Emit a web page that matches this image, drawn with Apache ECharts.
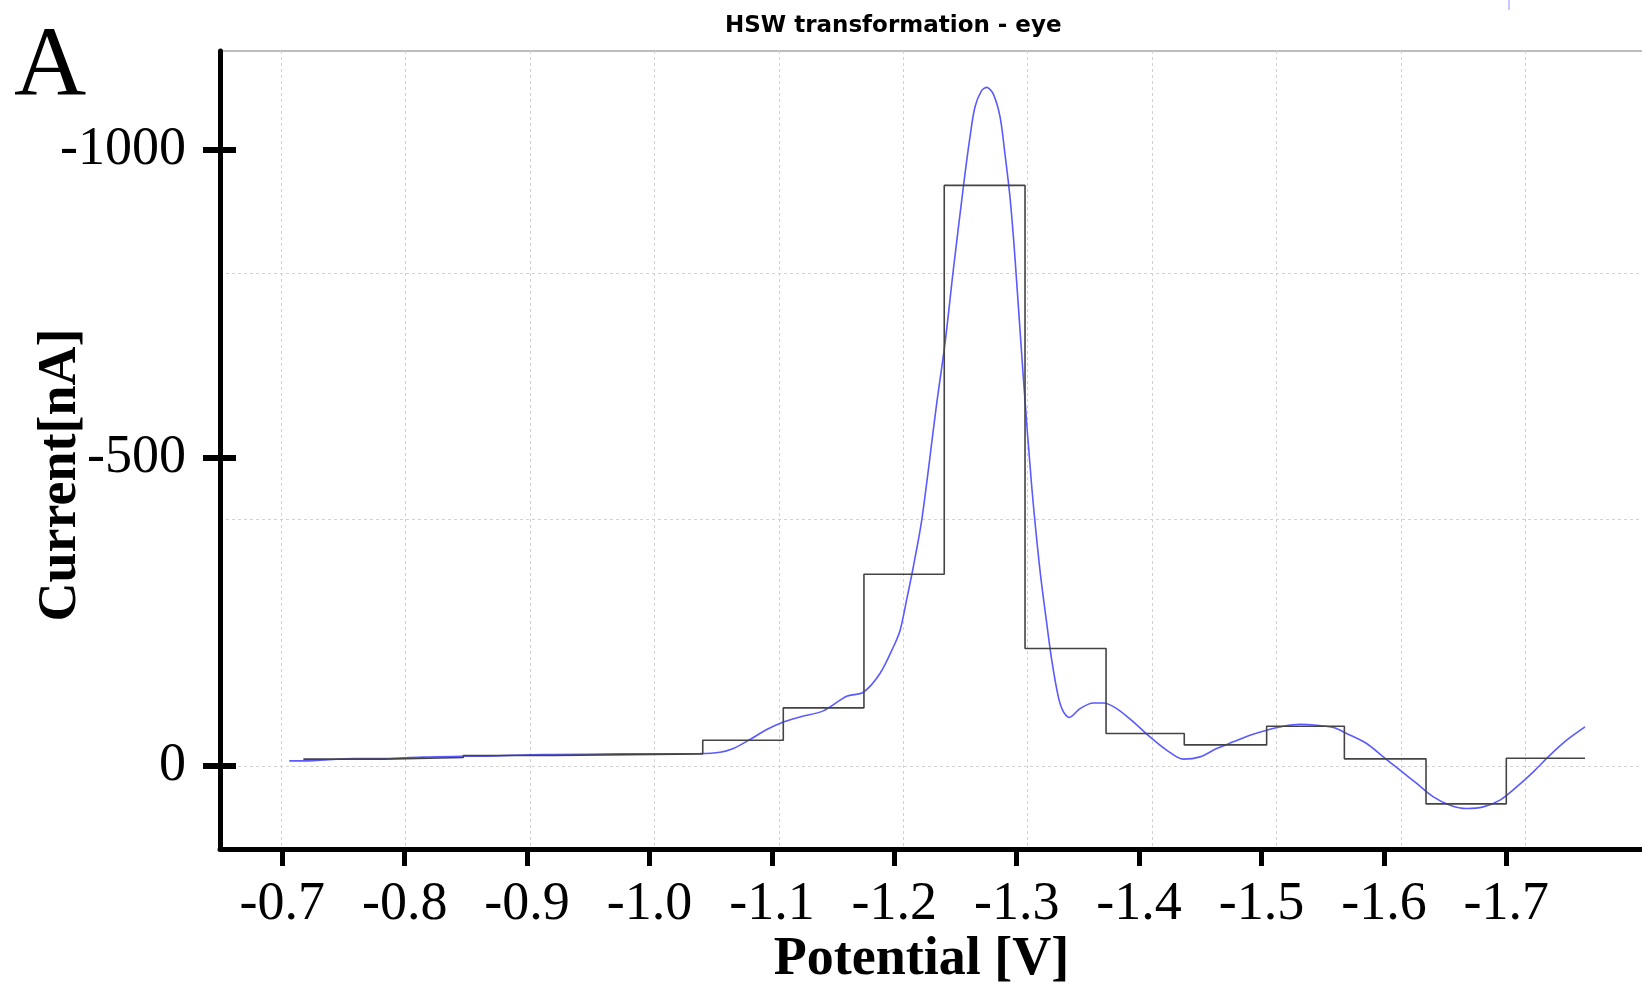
<!DOCTYPE html>
<html><head><meta charset="utf-8">
<script src="https://cdn.jsdelivr.net/npm/echarts@6/dist/echarts.min.js"></script>
<style>html,body{margin:0;padding:0;background:#fff}#c{width:1642px;height:989px}</style>
</head><body><div id="c"></div>
<script>
// Tick labels
const xTickValues = [-0.7, -0.8, -0.9, -1.0, -1.1, -1.2, -1.3, -1.4, -1.5, -1.6, -1.7];
const yTickValues = [-1000, -500, 0];
const yGridValues = [-800, -400, 0];
const xGridValues = [-0.7, -0.8, -0.9, -1.0, -1.1, -1.2, -1.3, -1.4, -1.5, -1.6, -1.7];

// Step (histogram) series: potential where each level starts, current of that level
const stepPotential = [-0.7172, -0.7825, -0.8479, -0.9214, -1.0435, -1.1093, -1.1752, -1.2408, -1.3068, -1.3730, -1.4369, -1.5042, -1.5677, -1.6344, -1.7000, -1.7643];
const stepCurrent   = [-10.9, -13.6, -16.9, -19.5, -41.6, -94.2, -311.2, -942.7, -190.6, -52.6, -34.1, -64.4, -11.4, 61.7, -12.5, -12.5];

// Smooth (blue) transformed curve
const curvePotential = [-0.7057, -0.7167, -0.7594, -0.7812, -0.8043, -0.8476, -0.8558, -0.9146, -0.9211, -0.9758,
  -1.0413, -1.0576, -1.0685, -1.0821, -1.0958, -1.1093, -1.1230, -1.1420, -1.1611, -1.1747,
  -1.1883, -1.1992, -1.2047, -1.2101, -1.2155, -1.2224, -1.2346, -1.2414, -1.2482, -1.2564,
  -1.2618, -1.2659, -1.2714, -1.2755, -1.2809, -1.2864, -1.2904, -1.2945, -1.2986, -1.3054,
  -1.3123, -1.3190, -1.3243, -1.3286, -1.3340, -1.3381, -1.3430, -1.3517, -1.3626, -1.3708,
  -1.3817, -1.3953, -1.4089, -1.4225, -1.4361, -1.4498, -1.4634, -1.4770, -1.4906, -1.5042,
  -1.5178, -1.5315, -1.5451, -1.5587, -1.5696, -1.5859, -1.5995, -1.6132, -1.6268, -1.6404,
  -1.6540, -1.6676, -1.6812, -1.6948, -1.7085, -1.7221, -1.7357, -1.7493, -1.7643];
const curveCurrent = [-8.1, -8.1, -12.0, -12.0, -13.6, -15.7, -15.7, -18.5, -18.5, -19.5,
  -20.0, -22.2, -28.2, -42.8, -59.0, -71.4, -79.5, -89.3, -113, -119.6,
  -150, -193, -220, -270, -323, -399, -588, -686, -805, -940,
  -1021, -1070, -1097, -1102, -1091, -1054, -994, -924, -825, -631,
  -453, -318, -235, -172, -112, -88, -78.6, -93, -102, -102,
  -93, -71.4, -47, -25.5, -10.9, -14.6, -28.2, -39, -49.8, -58,
  -64.4, -67.5, -66, -62.3, -52.6, -36.4, -14.6, 7, 28.6, 50.3,
  63.8, 69.2, 66.6, 55.7, 34.1, 9.7, -17.4, -41.7, -63.3];

const stepData = stepPotential.map((v, i) => [v, stepCurrent[i]]);
const curveData = curvePotential.map((v, i) => [v, curveCurrent[i]]);

const serif = 'Liberation Serif';
const yMin = -1161, yMax = 135;
const gridDash = { color: '#d2d2d2', width: 1, type: [3, 3] };

const chart = echarts.init(document.getElementById('c'), null, { renderer: 'canvas' });
chart.setOption({
  animation: false,
  backgroundColor: '#fff',
  title: [
    { text: 'HSW transformation - eye', left: 720, top: 10,
      textStyle: { fontFamily: 'DejaVu Sans', fontWeight: 'bold', fontSize: 23, color: '#000' } },
    { text: 'A', left: 9, top: 14,
      textStyle: { fontFamily: serif, fontWeight: 'normal', fontSize: 100, color: '#000' } }
  ],
  graphic: [
    { type: 'line', shape: { x1: 1509, y1: 0, x2: 1509, y2: 10 }, style: { stroke: '#c8c8ff', lineWidth: 2 } }
  ],
  grid: { left: 220, top: 51, right: -1, bottom: 140, show: true, borderColor: '#a8a8a8', borderWidth: 1.5,
    backgroundColor: 'transparent', containLabel: false, outerBoundsMode: 'none' },
  xAxis: [
    { type: 'value', position: 'bottom', inverse: true, min: -1.81168, max: -0.64910,
      axisLine: { show: true, onZero: false, lineStyle: { color: '#000', width: 5 } },
      axisTick: { show: true, customValues: xTickValues, length: 17, lineStyle: { color: '#000', width: 5 } },
      axisLabel: { show: true, customValues: xTickValues, formatter: v => v.toFixed(1),
        fontFamily: serif, fontSize: 54, color: '#000', margin: 29 },
      splitLine: { show: false },
      name: 'Potential [V]', nameLocation: 'middle', nameGap: 84, nameMoveOverlap: false,
      nameTextStyle: { fontFamily: serif, fontWeight: 'bold', fontSize: 54, color: '#000', padding: [0, 20, 0, 0] } },
    { type: 'value', position: 'top', inverse: true, min: -1.79469, max: -0.65080,
      axisLine: { show: false, onZero: false },
      axisTick: { show: false, customValues: xGridValues },
      axisLabel: { show: false },
      splitLine: { show: true, lineStyle: gridDash } }
  ],
  yAxis: [
    { type: 'value', position: 'left', inverse: true, min: yMin, max: yMax,
      axisLine: { show: true, onZero: false, lineStyle: { color: '#000', width: 5 } },
      axisTick: { show: true, customValues: yTickValues, length: 17, lineStyle: { color: '#000', width: 6 } },
      axisLabel: { show: true, customValues: yTickValues, formatter: v => String(v),
        fontFamily: serif, fontSize: 54, color: '#000', margin: 34 },
      splitLine: { show: false },
      name: 'Current[nA]', nameLocation: 'middle', nameGap: 132, nameMoveOverlap: false,
      nameTextStyle: { fontFamily: serif, fontWeight: 'bold', fontSize: 54, color: '#000', padding: [0, 50, 0, 0] } },
    { type: 'value', position: 'right', inverse: true, min: yMin, max: yMax,
      axisLine: { show: false, onZero: false },
      axisTick: { show: false, customValues: yGridValues },
      axisLabel: { show: false },
      splitLine: { show: true, lineStyle: gridDash } },
    { type: 'value', position: 'left', inverse: true, min: yMin, max: yMax,
      axisLine: { show: false, onZero: false },
      axisTick: { show: true, inside: true, customValues: yTickValues, length: 16, lineStyle: { color: '#000', width: 6 } },
      axisLabel: { show: false },
      splitLine: { show: false } }
  ],
  series: [
    { type: 'line', name: 'curve', xAxisIndex: 0, yAxisIndex: 0, data: curveData,
      showSymbol: false, symbol: 'none', smooth: 0.3, z: 2,
      lineStyle: { color: '#5a5aff', width: 1.6 } },
    { type: 'line', name: 'steps', xAxisIndex: 0, yAxisIndex: 0, data: stepData,
      step: 'end', showSymbol: false, symbol: 'none', z: 3,
      lineStyle: { color: '#444444', width: 1.6 } }
  ]
});
</script></body></html>
